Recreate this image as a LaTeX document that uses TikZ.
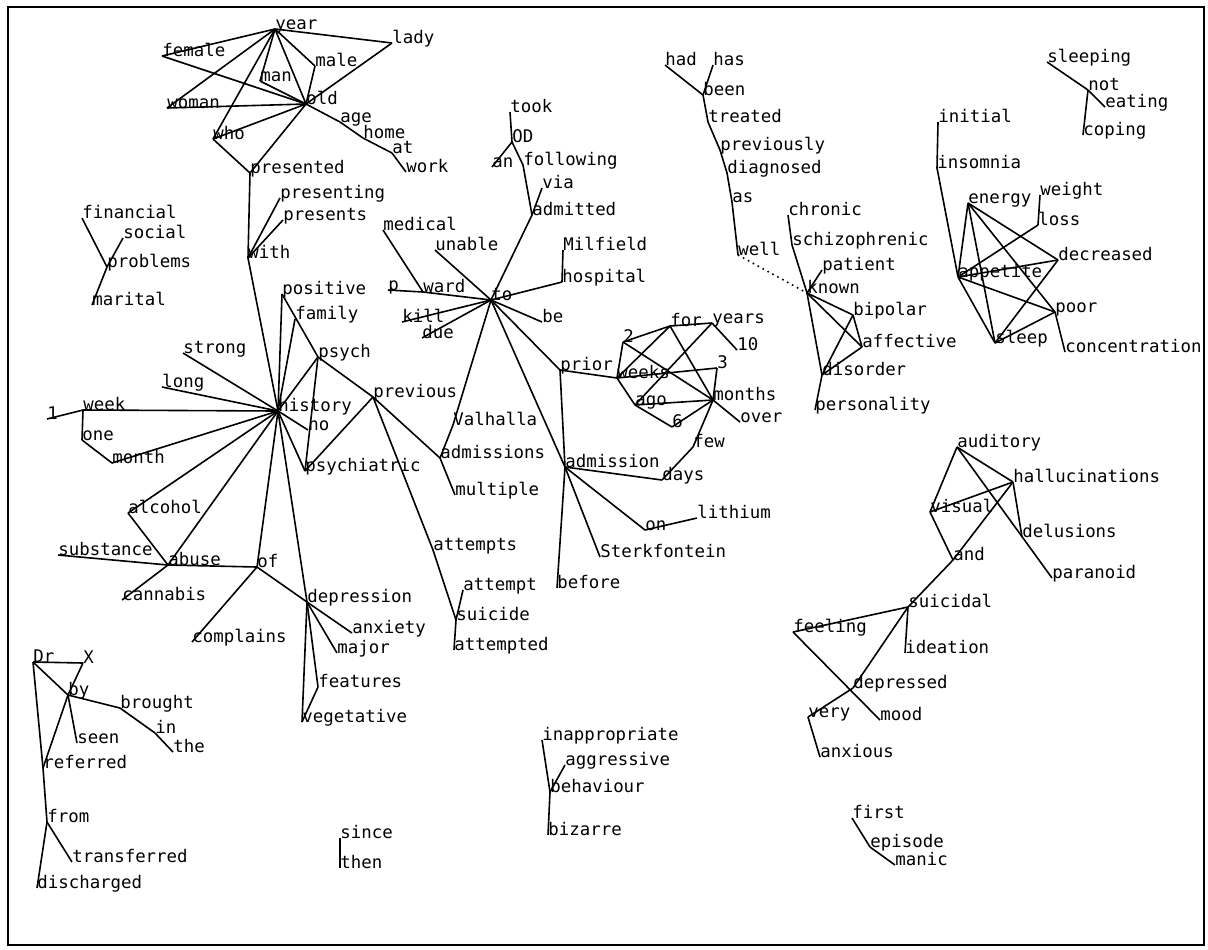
\documentclass[tikz,border=0pt]{standalone}
\usepackage{fontspec}
\setmainfont{DejaVu Sans Mono}
\begin{document}
\begin{tikzpicture}[x=0.5pt, y=-0.5pt, font=\fontsize{8.7}{10}\selectfont,
  wd/.style={anchor=base west, inner sep=0pt},
  link/.style={line width=0.8pt}]
\useasboundingbox (0,0) rectangle (1208,949);
\draw[line width=1.2pt] (8,7) rectangle (1204,945);
% the words
\node[wd] (year) at (275,29) {year};
\node[wd] (lady) at (392,43) {lady};
\node[wd] (female) at (162,56) {female};
\node[wd] (male) at (315,66) {male};
\node[wd] (man) at (260,81) {man};
\node[wd] (old) at (306,104) {old};
\node[wd] (woman) at (167,108) {woman};
\node[wd] (age) at (340,122) {age};
\node[wd] (home) at (363,138) {home};
\node[wd] (at) at (392,153) {at};
\node[wd] (work) at (406,172) {work};
\node[wd] (who) at (213,139) {who};
\node[wd] (presented) at (250,173) {presented};
\node[wd] (presenting) at (280,198) {presenting};
\node[wd] (presents) at (283,220) {presents};
\node[wd] (with) at (248,258) {with};
\node[wd] (financial) at (82,218) {financial};
\node[wd] (social) at (123,238) {social};
\node[wd] (problems) at (107,267) {problems};
\node[wd] (marital) at (92,305) {marital};
\node[wd] (positive) at (282,294) {positive};
\node[wd] (family) at (295,319) {family};
\node[wd] (strong) at (183,353) {strong};
\node[wd] (psych) at (318,357) {psych};
\node[wd] (long) at (162,387) {long};
\node[wd] (previous) at (373,397) {previous};
\node[wd] (history) at (278,411) {history};
\node[wd] (week) at (83,410) {week};
\node[wd] (n1) at (47,419) {1};
\node[wd] (one) at (82,440) {one};
\node[wd] (no) at (308,430) {no};
\node[wd] (month) at (112,463) {month};
\node[wd] (psychiatric) at (305,471) {psychiatric};
\node[wd] (alcohol) at (128,513) {alcohol};
\node[wd] (substance) at (58,555) {substance};
\node[wd] (abuse) at (168,565) {abuse};
\node[wd] (of) at (257,567) {of};
\node[wd] (cannabis) at (122,600) {cannabis};
\node[wd] (depression) at (307,602) {depression};
\node[wd] (complains) at (192,642) {complains};
\node[wd] (anxiety) at (352,633) {anxiety};
\node[wd] (major) at (337,653) {major};
\node[wd] (features) at (318,687) {features};
\node[wd] (vegetative) at (302,722) {vegetative};
\node[wd] (Dr) at (33,662) {Dr};
\node[wd] (X) at (83,663) {X};
\node[wd] (by) at (68,695) {by};
\node[wd] (brought) at (120,708) {brought};
\node[wd] (in) at (155,733) {in};
\node[wd] (the) at (173,752) {the};
\node[wd] (seen) at (77,743) {seen};
\node[wd] (referred) at (43,768) {referred};
\node[wd] (from) at (47,822) {from};
\node[wd] (transferred) at (72,862) {transferred};
\node[wd] (discharged) at (37,888) {discharged};
\node[wd] (since) at (340,838) {since};
\node[wd] (then) at (340,868) {then};
\node[wd] (took) at (510,112) {took};
\node[wd] (OD) at (512,142) {OD};
\node[wd] (an) at (492,167) {an};
\node[wd] (following) at (523,165) {following};
\node[wd] (via) at (542,188) {via};
\node[wd] (admitted) at (532,215) {admitted};
\node[wd] (medical) at (383,230) {medical};
\node[wd] (unable) at (435,250) {unable};
\node[wd] (Milfield) at (563,250) {Milfield};
\node[wd] (hospital) at (562,282) {hospital};
\node[wd] (p) at (388,290) {p};
\node[wd] (ward) at (423,292) {ward};
\node[wd] (to) at (491,300) {to};
\node[wd] (kill) at (402,322) {kill};
\node[wd] (due) at (422,338) {due};
\node[wd] (be) at (542,322) {be};
\node[wd] (prior) at (560,370) {prior};
\node[wd] (Valhalla) at (453,425) {Valhalla};
\node[wd] (admissions) at (440,458) {admissions};
\node[wd] (multiple) at (455,495) {multiple};
\node[wd] (admission) at (565,467) {admission};
\node[wd] (days) at (662,480) {days};
\node[wd] (few) at (693,447) {few};
\node[wd] (on) at (645,530) {on};
\node[wd] (lithium) at (697,518) {lithium};
\node[wd] (Sterkfontein) at (600,557) {Sterkfontein};
\node[wd] (before) at (557,588) {before};
\node[wd] (attempts) at (433,550) {attempts};
\node[wd] (attempt) at (463,590) {attempt};
\node[wd] (suicide) at (456,620) {suicide};
\node[wd] (attempted) at (454,650) {attempted};
\node[wd] (n2) at (623,342) {2};
\node[wd] (for) at (670,326) {for};
\node[wd] (years) at (712,323) {years};
\node[wd] (n10) at (737,350) {10};
\node[wd] (n3) at (717,368) {3};
\node[wd] (weeks) at (617,378) {weeks};
\node[wd] (ago) at (635,405) {ago};
\node[wd] (months) at (713,400) {months};
\node[wd] (n6) at (672,427) {6};
\node[wd] (over) at (740,422) {over};
\node[wd] (had) at (665,65) {had};
\node[wd] (has) at (713,65) {has};
\node[wd] (been) at (703,95) {been};
\node[wd] (treated) at (708,122) {treated};
\node[wd] (previously) at (720,150) {previously};
\node[wd] (diagnosed) at (727,173) {diagnosed};
\node[wd] (as) at (732,202) {as};
\node[wd] (well) at (738,255) {well};
\node[wd] (chronic) at (788,215) {chronic};
\node[wd] (schizophrenic) at (792,245) {schizophrenic};
\node[wd] (patient) at (822,270) {patient};
\node[wd] (known) at (807,293) {known};
\node[wd] (bipolar) at (853,315) {bipolar};
\node[wd] (affective) at (862,347) {affective};
\node[wd] (disorder) at (822,375) {disorder};
\node[wd] (personality) at (815,410) {personality};
\node[wd] (initial) at (938,122) {initial};
\node[wd] (insomnia) at (937,168) {insomnia};
\node[wd] (energy) at (968,203) {energy};
\node[wd] (weight) at (1040,195) {weight};
\node[wd] (loss) at (1038,225) {loss};
\node[wd] (decreased) at (1058,260) {decreased};
\node[wd] (appetite) at (958,277) {appetite};
\node[wd] (poor) at (1055,312) {poor};
\node[wd] (sleep) at (995,343) {sleep};
\node[wd] (concentration) at (1065,352) {concentration};
\node[wd] (sleeping) at (1047,62) {sleeping};
\node[wd] (not) at (1088,90) {not};
\node[wd] (eating) at (1105,107) {eating};
\node[wd] (coping) at (1083,135) {coping};
\node[wd] (auditory) at (957,447) {auditory};
\node[wd] (hallucinations) at (1013,482) {hallucinations};
\node[wd] (visual) at (930,512) {visual};
\node[wd] (delusions) at (1022,537) {delusions};
\node[wd] (and) at (953,560) {and};
\node[wd] (paranoid) at (1052,578) {paranoid};
\node[wd] (suicidal) at (908,607) {suicidal};
\node[wd] (feeling) at (793,632) {feeling};
\node[wd] (ideation) at (905,653) {ideation};
\node[wd] (depressed) at (853,688) {depressed};
\node[wd] (very) at (808,717) {very};
\node[wd] (mood) at (880,720) {mood};
\node[wd] (anxious) at (820,757) {anxious};
\node[wd] (first) at (852,818) {first};
\node[wd] (episode) at (870,847) {episode};
\node[wd] (manic) at (895,865) {manic};
\node[wd] (inappropriate) at (542,740) {inappropriate};
\node[wd] (aggressive) at (565,765) {aggressive};
\node[wd] (behaviour) at (550,792) {behaviour};
\node[wd] (bizarre) at (548,835) {bizarre};
% the links
\foreach \a/\b in {year/lady, year/female, year/woman, year/who, year/man,
  year/old, year/male, female/old, man/old, woman/old, male/old, lady/old,
  who/old, old/presented, old/age, age/home, home/at, at/work,
  who/presented, presented/with, with/presenting, with/presents, with/history,
  financial/problems, social/problems, problems/marital}
  \draw[link] (\a.base west) -- (\b.base west);
\foreach \a/\b in {positive/history, family/history, positive/psych,
  psych/history, psych/previous, psych/psychiatric, previous/psychiatric,
  previous/admissions, admissions/multiple, previous/attempts,
  attempts/suicide, attempt/suicide, suicide/attempted, history/strong,
  history/long, history/week, n1/week, week/one, one/month, month/history,
  history/no, history/psychiatric, history/alcohol, history/abuse,
  alcohol/abuse, substance/abuse, abuse/cannabis, abuse/of, of/history,
  of/complains, of/depression, history/depression, depression/anxiety,
  depression/major, depression/features, depression/vegetative,
  features/vegetative}
  \draw[link] (\a.base west) -- (\b.base west);
\foreach \a/\b in {Dr/X, X/by, Dr/by, Dr/referred, by/brought, brought/in,
  in/the, by/seen, by/referred, referred/from, from/transferred,
  from/discharged, since/then}
  \draw[link] (\a.base west) -- (\b.base west);
\foreach \a/\b in {took/OD, OD/an, OD/following, following/admitted,
  via/admitted, admitted/to, medical/ward, p/ward, ward/to, unable/to,
  kill/to, due/to, to/hospital, hospital/Milfield, to/be, to/prior,
  to/Valhalla, Valhalla/admissions, to/admission, prior/admission,
  admission/before, admission/days, admission/on, admission/Sterkfontein,
  on/lithium, days/few, few/months, prior/weeks}
  \draw[link] (\a.base west) -- (\b.base west);
\foreach \a/\b in {n2/for, for/years, n2/weeks, n2/months, for/months,
  for/weeks, years/ago, years/n10, weeks/n3, n3/months, weeks/ago,
  ago/months, ago/n6, n6/months, months/over}
  \draw[link] (\a.base west) -- (\b.base west);
\foreach \a/\b in {had/been, has/been, been/treated, treated/previously,
  previously/diagnosed, diagnosed/as, as/well, chronic/schizophrenic,
  schizophrenic/known, patient/known, known/bipolar, known/affective,
  known/disorder, bipolar/affective, bipolar/disorder, affective/disorder,
  disorder/personality}
  \draw[link] (\a.base west) -- (\b.base west);
\draw[link, dotted] (well.base west) -- (known.base west);
\foreach \a/\b in {initial/insomnia, insomnia/appetite, energy/appetite,
  energy/sleep, energy/decreased, energy/poor, weight/loss, loss/appetite,
  decreased/appetite, decreased/sleep, appetite/poor, appetite/sleep,
  poor/sleep, poor/concentration, sleeping/not, not/eating, not/coping}
  \draw[link] (\a.base west) -- (\b.base west);
\foreach \a/\b in {auditory/hallucinations, auditory/visual,
  auditory/paranoid, hallucinations/delusions, hallucinations/visual,
  hallucinations/and, visual/and, and/suicidal, suicidal/feeling,
  suicidal/ideation, suicidal/depressed, feeling/mood, depressed/very,
  very/anxious, first/episode, episode/manic, inappropriate/behaviour,
  aggressive/behaviour, behaviour/bizarre}
  \draw[link] (\a.base west) -- (\b.base west);
\end{tikzpicture}
\end{document}
